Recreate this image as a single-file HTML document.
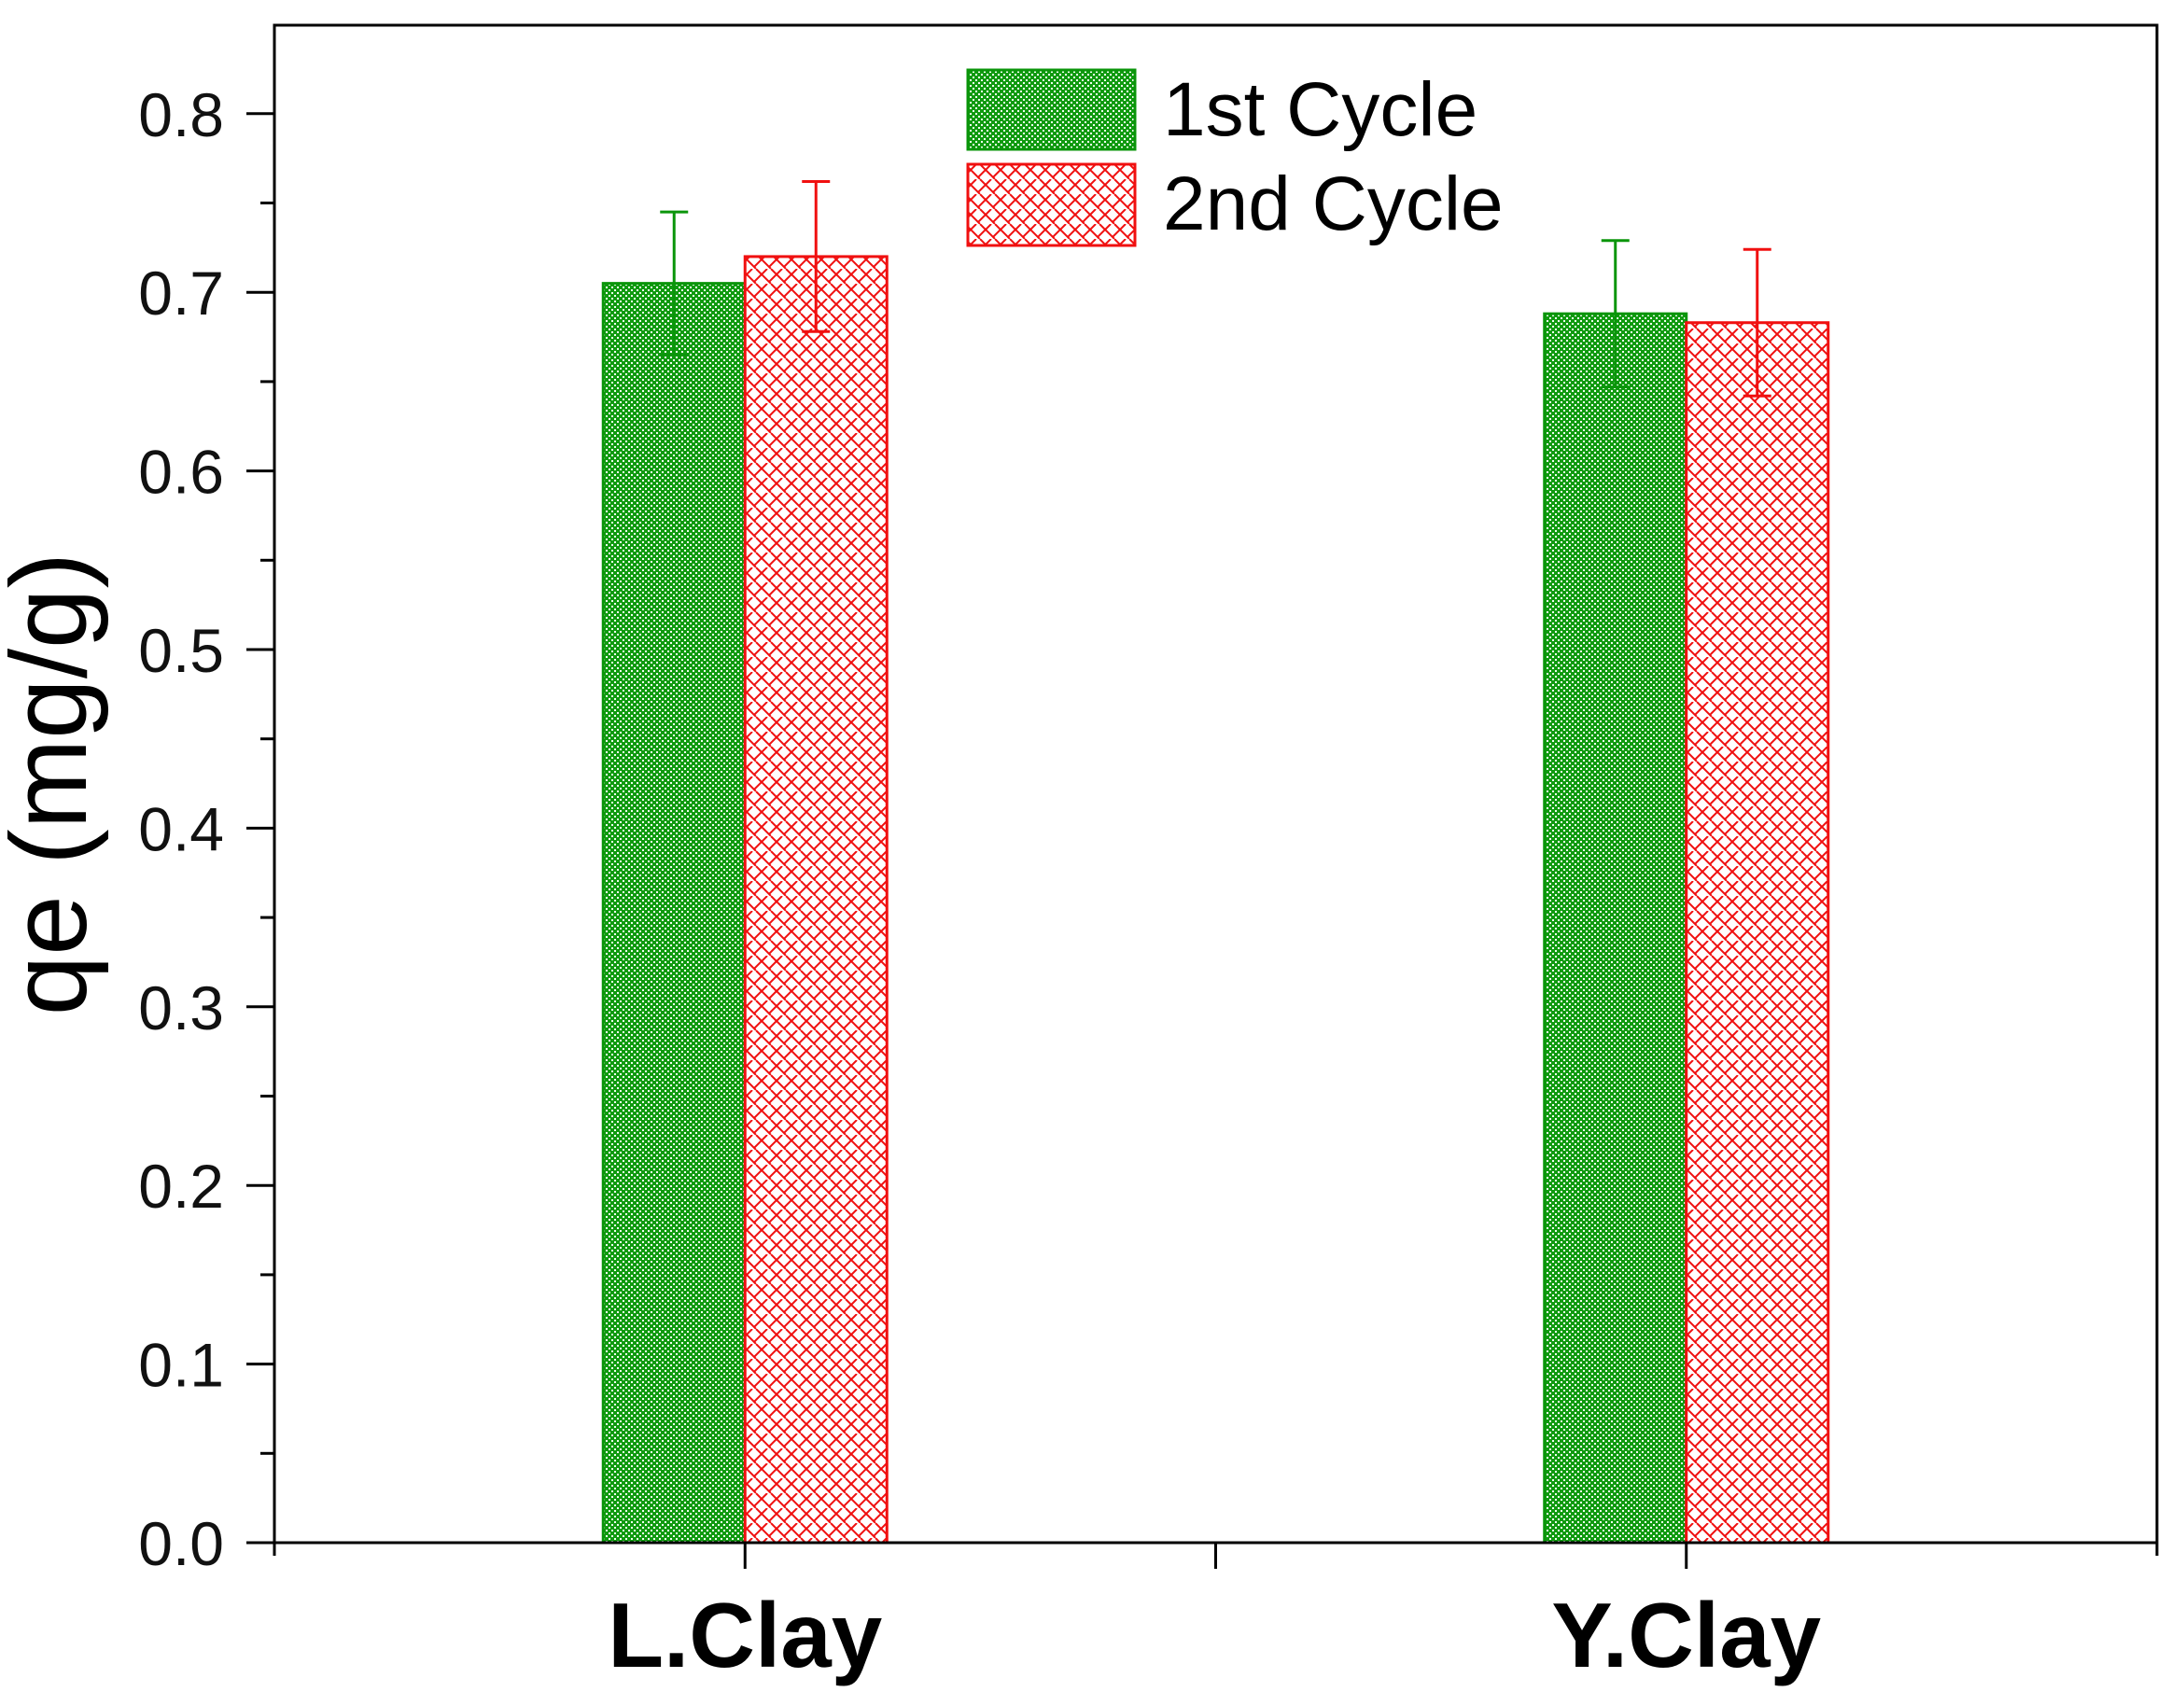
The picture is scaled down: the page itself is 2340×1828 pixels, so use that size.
<!DOCTYPE html>
<html><head><meta charset="utf-8"><style>
html,body{margin:0;padding:0;background:#fff;}
svg{display:block;}
text{font-family:"Liberation Sans",Arial,sans-serif;}
</style></head><body>
<svg id="chart" width="2340" height="1828" viewBox="0 0 2340 1828" xmlns="http://www.w3.org/2000/svg">
<defs>
<pattern id="pg" width="6" height="6" patternUnits="userSpaceOnUse">
<rect width="6" height="6" fill="#109a10"/>
<rect x="1" y="1" width="2" height="2" fill="#f0fff0"/>
<rect x="4" y="4" width="2" height="2" fill="#f0fff0"/>
</pattern>
<pattern id="pr" width="16" height="16" patternUnits="userSpaceOnUse">
<rect width="16" height="16" fill="#fff"/>
<path d="M0 6 L6 0 M0 6 L8 14 L16 6 M10 0 L16 6 M8 14 L10 16" stroke="#f01010" stroke-width="2" fill="none"/>
</pattern>
</defs>
<g id="plot"></g>
<g>
<rect x="1037" y="75" width="179" height="85" fill="url(#pg)" stroke="#0a950a" stroke-width="3"/>
<text x="1246" y="145" font-size="82" fill="#000">1st Cycle</text>
<rect x="1037" y="176" width="179" height="87" fill="url(#pr)" stroke="#f01010" stroke-width="3"/>
<text x="1246" y="246" font-size="82" fill="#000">2nd Cycle</text>
</g>
<text transform="translate(92,840) rotate(-90)" text-anchor="middle" font-size="116" fill="#000">qe (mg/g)</text>
</svg>
<script>
const categories = ["L.Clay", "Y.Clay"];
const series1 = [0.705, 0.688];
const series1Err = [0.040, 0.041];
const series2 = [0.720, 0.683];
const series2Err = [0.042, 0.041];
const yTicks = ["0.0","0.1","0.2","0.3","0.4","0.5","0.6","0.7","0.8"];

const NS = "http://www.w3.org/2000/svg";
const L = 294, R = 2311, T = 27, B = 1653;
const y = v => B - v * 1914;
const catStep = (R - L) / 4;
const x = i => L + catStep * (1 + 2 * i);
const plot = document.getElementById('plot');
function mk(tag, attrs, parent) {
  const e = document.createElementNS(NS, tag);
  for (const k in attrs) e.setAttribute(k, attrs[k]);
  (parent || plot).appendChild(e);
  return e;
}
const barW = 152;
categories.forEach((c, i) => {
  const cx = x(i);
  const b1 = mk('rect', {x: cx - barW, y: y(series1[i]), width: barW, height: B - y(series1[i]), fill: 'url(#pg)', stroke: '#0a950a', 'stroke-width': 3});
  
  
  const b2 = mk('rect', {x: cx, y: y(series2[i]), width: barW, height: B - y(series2[i]), fill: 'url(#pr)', stroke: '#f01010', 'stroke-width': 3});
  
  
  [[cx - barW / 2, series1[i], series1Err[i], '#0a950a'], [cx + barW / 2, series2[i], series2Err[i], '#f01010']].forEach(([ex, v, e, col]) => {
    const g = mk('g', {stroke: col, 'stroke-width': 3});
    
    
    mk('line', {x1: ex, x2: ex, y1: y(v + e), y2: y(v - e)}, g);
    mk('line', {x1: ex - 15, x2: ex + 15, y1: y(v + e), y2: y(v + e)}, g);
    mk('line', {x1: ex - 15, x2: ex + 15, y1: y(v - e), y2: y(v - e)}, g);
  });
  const t = mk('text', {x: cx, y: 1786, 'text-anchor': 'middle', 'font-size': 98, 'font-weight': 'bold', fill: '#000'});
  t.textContent = c;
  
  
});
const fr = mk('rect', {x: L, y: T, width: R - L, height: B - T, fill: 'none', stroke: '#000', 'stroke-width': 3});


yTicks.forEach((lab, i) => {
  const v = parseFloat(lab);
  mk('line', {x1: L - 30, x2: L, y1: y(v), y2: y(v), stroke: '#000', 'stroke-width': 3});
  if (i < yTicks.length - 1) mk('line', {x1: L - 15, x2: L, y1: y(v + 0.05), y2: y(v + 0.05), stroke: '#000', 'stroke-width': 3});
  const t = mk('text', {x: 240, y: y(v) + 24, 'text-anchor': 'end', 'font-size': 66, fill: '#111'});
  t.textContent = lab;
  
  
});
for (let k = 0; k <= 4; k++) {
  const xx = L + catStep * k;
  if (k === 0 || k === 4) mk('line', {x1: xx, x2: xx, y1: B, y2: B + 14, stroke: '#000', 'stroke-width': 3});
  else mk('line', {x1: xx, x2: xx, y1: B, y2: B + 28, stroke: '#000', 'stroke-width': 3});
}
mk('line', {x1: L - 30, x2: R, y1: B, y2: B, stroke: '#000', 'stroke-width': 3});
</script>
</body></html>
